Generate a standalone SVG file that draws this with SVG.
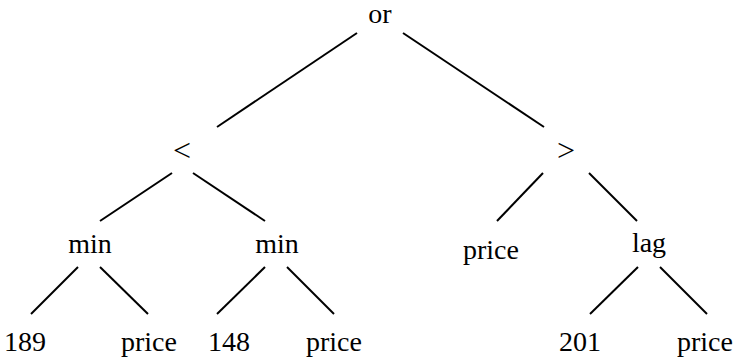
<svg xmlns="http://www.w3.org/2000/svg" width="735" height="360" viewBox="0 0 735 360">
  <style>
    .lbl { font-family: "Liberation Serif", "Times New Roman", serif; font-size: 28px; fill: #000; text-anchor: middle; }
    .op { font-size: 32px; }
    .edge { stroke: #000; stroke-width: 2; fill: none; }
  </style>
  <rect width="735" height="360" fill="#fff"/>
  <g id="edges">
    <line class="edge" x1="357" y1="33" x2="217" y2="127"/>
    <line class="edge" x1="403" y1="33" x2="544" y2="127"/>
    <line class="edge" x1="172" y1="173" x2="100" y2="221"/>
    <line class="edge" x1="193" y1="173" x2="265" y2="221"/>
    <line class="edge" x1="78" y1="267" x2="31" y2="314"/>
    <line class="edge" x1="100" y1="267" x2="148" y2="314"/>
    <line class="edge" x1="265" y1="267" x2="217" y2="314"/>
    <line class="edge" x1="287" y1="267" x2="334" y2="314"/>
    <line class="edge" x1="543" y1="173" x2="497" y2="221"/>
    <line class="edge" x1="589" y1="173" x2="637" y2="221"/>
    <line class="edge" x1="638" y1="267" x2="590" y2="314"/>
    <line class="edge" x1="660" y1="267" x2="707" y2="314"/>
  </g>
  <g id="n-or"><text class="lbl" x="380" y="23">or</text></g>
  <g id="n-lt"><text class="lbl op" x="182" y="161">&lt;</text></g>
  <g id="n-gt"><text class="lbl op" x="566" y="161">&gt;</text></g>
  <g id="n-min1"><text class="lbl" x="90" y="253">min</text></g>
  <g id="n-min2"><text class="lbl" x="277" y="253">min</text></g>
  <g id="n-price1"><text class="lbl" x="491" y="259">price</text></g>
  <g id="n-lag"><text class="lbl" x="649" y="252">lag</text></g>
  <g id="n-189"><text class="lbl" x="25" y="351">189</text></g>
  <g id="n-price2"><text class="lbl" x="149" y="351">price</text></g>
  <g id="n-148"><text class="lbl" x="229" y="351">148</text></g>
  <g id="n-price3"><text class="lbl" x="334" y="351">price</text></g>
  <g id="n-201"><text class="lbl" x="580" y="351">201</text></g>
  <g id="n-price4"><text class="lbl" x="705" y="351">price</text></g>
</svg>
